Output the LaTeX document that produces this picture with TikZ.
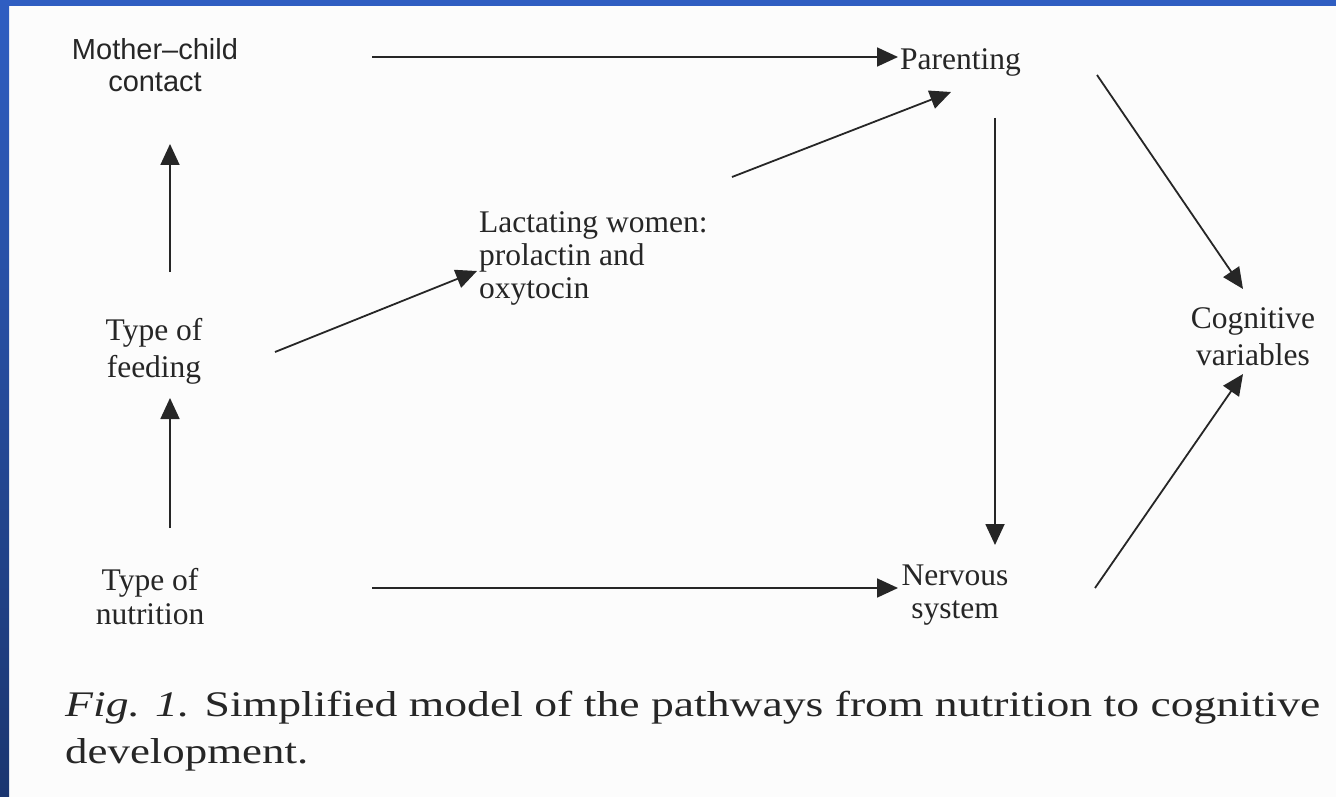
\documentclass[tikz,border=0pt]{standalone}
\usepackage{graphicx}
\usepackage{fontspec}
\setmainfont{Liberation Serif}
\newfontfamily\arialfont{Liberation Sans}
\usetikzlibrary{arrows.meta}
\definecolor{ink}{HTML}{262626}
\definecolor{bluetop}{HTML}{2F5EC2}
\definecolor{bluebot}{HTML}{1B3670}
\begin{document}
\begin{tikzpicture}[x=1pt,y=-1pt,
  lbl/.style={text=ink, inner sep=0pt, align=center, anchor=base},
  serif/.style={font=\fontsize{31.5}{#1}\selectfont},
  arr/.style={draw=ink, line width=1.8pt, -{Triangle[length=21pt,width=19pt]}}]
\useasboundingbox (0,0) rectangle (1336,797);
\fill[white!99!black] (0,0) rectangle (1336,797);
\fill[bluetop] (0,0) rectangle (1336,6);
\shade[top color=bluetop, bottom color=bluebot] (0,0) rectangle (9,797);

% nodes (base anchor = baseline of the last line)
\node[lbl, font=\arialfont\fontsize{29}{32}\selectfont] (mc) at (155,92) {Mother–child\\contact};
\node[lbl, serif=37] (feed) at (154,377) {Type of\\feeding};
\node[lbl, serif=34] (nutr) at (150,624) {Type of\\nutrition};
\node[lbl, serif=33, anchor=base west, align=left] (lact) at (479,298) {Lactating women:\\prolactin and\\oxytocin};
\node[lbl, serif=34, anchor=base west] (par) at (900,70) {Parenting};
\node[lbl, serif=33] (nerv) at (955,618) {Nervous\\system};
\node[lbl, serif=37] (cog) at (1253,365) {Cognitive\\variables};
\node[text=ink, inner sep=0pt, anchor=base west, align=left, font=\fontsize{36}{47}\selectfont] (cap) at (65,763)
  {\resizebox{1255pt}{\height}{\textit{Fig. 1.} Simplified model of the pathways from nutrition to cognitive}\\
   \resizebox{243pt}{\height}{development.}};

% connector end points
\coordinate (mcE) at (372,57);   \coordinate (parW) at (898,57);
\coordinate (lactNE) at (732,177); \coordinate (parS) at (951,92);
\coordinate (feedE) at (275,352);  \coordinate (lactW) at (477,271);
\coordinate (feedN) at (170,272);  \coordinate (mcS) at (170,144);
\coordinate (nutrN) at (170,528);  \coordinate (feedS) at (170,398);
\coordinate (nutrE) at (372,588);  \coordinate (nervW) at (898,588);
\coordinate (parB) at (995,118);   \coordinate (nervN) at (995,545);
\coordinate (parE) at (1097,75);   \coordinate (cogN) at (1243,289);
\coordinate (nervE) at (1095,588); \coordinate (cogS) at (1243,374);

\draw[arr] (mcE) -- (parW);
\draw[arr] (lactNE) -- (parS);
\draw[arr] (feedE) -- (lactW);
\draw[arr] (feedN) -- (mcS);
\draw[arr] (nutrN) -- (feedS);
\draw[arr] (nutrE) -- (nervW);
\draw[arr] (parB) -- (nervN);
\draw[arr] (parE) -- (cogN);
\draw[arr] (nervE) -- (cogS);
\end{tikzpicture}
\end{document}
